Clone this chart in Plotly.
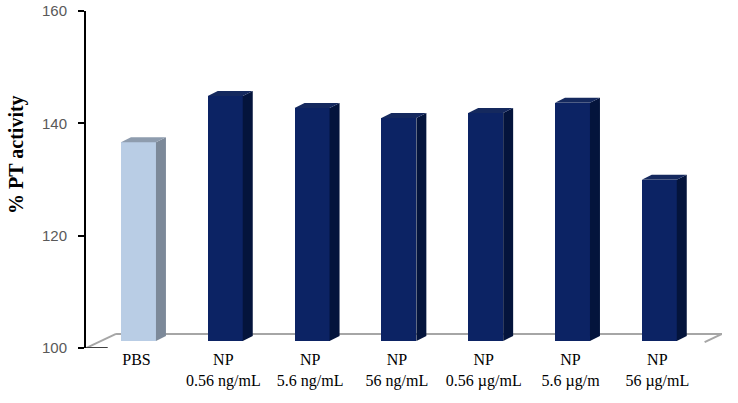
import plotly.graph_objects as go

# ---- data ----
categories = ["PBS", "NP<br>0.56 ng/mL", "NP<br>5.6 ng/mL", "NP<br>56 ng/mL",
              "NP<br>0.56 \u00b5g/mL", "NP<br>5.6 \u00b5g/m", "NP<br>56 \u00b5g/mL"]
pt_activity = [135.4, 143.6, 141.5, 139.7, 140.6, 142.4, 128.7]
y_ticks = [100, 120, 140, 160]

# ---- 3D-look styling constants (axis units) ----
Y0 = 100
FLOOR_DEPTH_Y = 2.5      # vertical projection of floor depth
FLOOR_DEPTH_X = 0.346    # horizontal projection of floor depth
BAR_SHIFT_Y = FLOOR_DEPTH_Y / 2
FRONT_W = 0.403
SIDE_DX = 0.115
SIDE_DY = 0.89
X_MIN, X_MAX = -0.662, 6.665

front_colors = ["#B9CDE5"] + ["#0C2364"] * 6
side_colors = ["#7C8999"] + ["#04143C"] * 6
top_colors = ["#8E9CAE"] + ["#15295E"] * 6

idx = list(range(len(categories)))
front_center = [i - SIDE_DX / 2 for i in idx]

fig = go.Figure()
fig.add_trace(go.Bar(
    x=front_center, y=[v - Y0 for v in pt_activity], base=Y0 + BAR_SHIFT_Y,
    width=FRONT_W, marker=dict(color=front_colors, line=dict(width=0)),
    showlegend=False, hoverinfo="skip"))

for i, v in zip(idx, pt_activity):
    xl = front_center[i] - FRONT_W / 2
    xr = front_center[i] + FRONT_W / 2
    b = Y0 + BAR_SHIFT_Y
    t = v + BAR_SHIFT_Y
    # side face
    fig.add_trace(go.Scatter(
        x=[xr, xr + SIDE_DX, xr + SIDE_DX, xr, xr],
        y=[b, b + SIDE_DY, t + SIDE_DY, t, b],
        fill="toself", fillcolor=side_colors[i], mode="lines",
        line=dict(width=0, color=side_colors[i]), showlegend=False, hoverinfo="skip"))
    # top face
    fig.add_trace(go.Scatter(
        x=[xl, xl + SIDE_DX, xr + SIDE_DX, xr, xl],
        y=[t, t + SIDE_DY, t + SIDE_DY, t, t],
        fill="toself", fillcolor=top_colors[i], mode="lines",
        line=dict(width=0, color=top_colors[i]), showlegend=False, hoverinfo="skip"))

# floor lines
floor_col = "#A6A6A6"
fig.add_shape(type="line", x0=X_MIN, y0=Y0, x1=X_MIN + FLOOR_DEPTH_X, y1=Y0 + FLOOR_DEPTH_Y,
              line=dict(color=floor_col, width=2), layer="below")
fig.add_shape(type="line", x0=X_MIN + FLOOR_DEPTH_X, y0=Y0 + FLOOR_DEPTH_Y, x1=X_MAX, y1=Y0 + FLOOR_DEPTH_Y,
              line=dict(color=floor_col, width=2), layer="below")
fig.add_shape(type="line", x0=X_MAX, y0=Y0 + FLOOR_DEPTH_Y, x1=X_MAX - 0.2, y1=Y0 + FLOOR_DEPTH_Y * 0.42,
              line=dict(color=floor_col, width=2), layer="below")
fig.add_shape(type="line", x0=X_MIN, y0=Y0, x1=X_MIN + 0.25, y1=Y0,
              line=dict(color="#404040", width=2), layer="above")

fig.add_annotation(text="<b>% PT activity</b>", textangle=-90,
                   xref="paper", yref="paper", x=-0.1085, y=0.576,
                   xanchor="center", yanchor="middle", showarrow=False,
                   font=dict(family="Liberation Serif", size=20, color="black"))

fig.update_layout(
    width=738, height=403,
    margin=dict(l=86, r=16, t=11, b=55, autoexpand=False),
    paper_bgcolor="white", plot_bgcolor="white",
    bargap=0,
    xaxis=dict(range=[X_MIN, X_MAX], tickvals=[i - 0.08 for i in idx], ticktext=categories,
               showgrid=False, zeroline=False, showline=False, ticks="", automargin=False,
               tickfont=dict(family="Liberation Serif", size=16, color="black")),
    yaxis=dict(range=[100, 160], tickvals=y_ticks, ticktext=[str(t) for t in y_ticks],
               showgrid=False, zeroline=False, showline=True, linecolor="black", linewidth=2,
               ticks="outside", ticklen=6, tickcolor="black", tickwidth=1.5, automargin=False,
               tickfont=dict(family="Liberation Sans", size=15, color="#595959"),
               ticklabelstandoff=8),
)

fig.write_html("out.html", config={"displayModeBar": False},
               post_script="document.body.style.margin='0';document.body.style.overflow='hidden';")
